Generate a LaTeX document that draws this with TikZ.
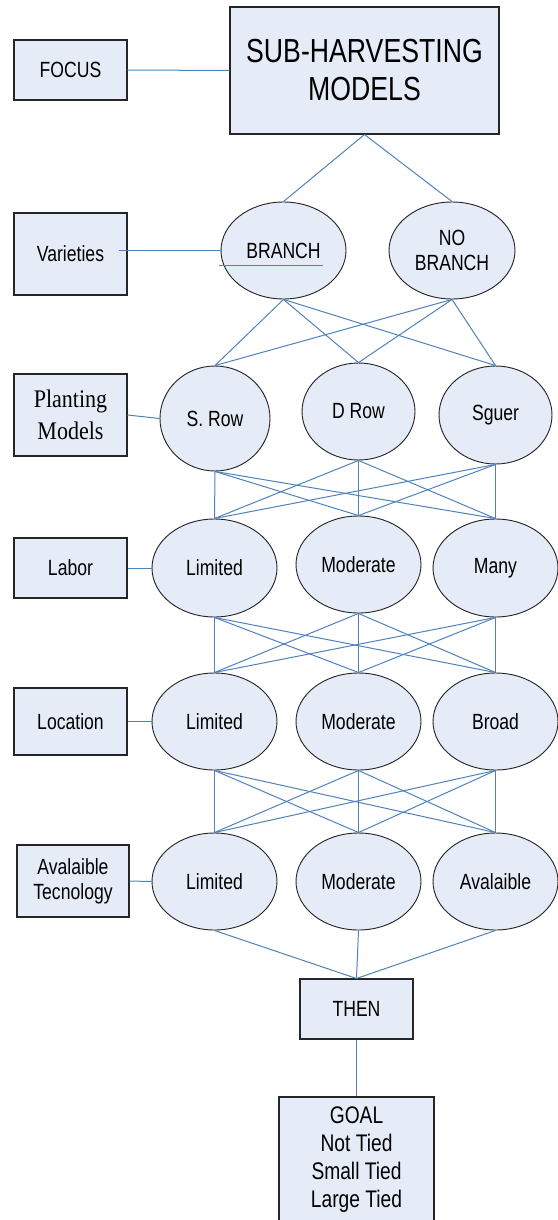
\documentclass[tikz,border=0pt]{standalone}
\usepackage{fontspec}
\setmainfont{Liberation Sans}[FakeStretch=0.8]
\newfontfamily\plantfont{Liberation Serif}[FakeStretch=0.87]
\usepackage{tikz}
\usetikzlibrary{shapes.geometric,calc}
\definecolor{boxblue}{RGB}{230,236,247}
\definecolor{linkblue}{RGB}{79,129,189}
\tikzset{
  tag/.style={rectangle, draw=black!85, fill=boxblue, line width=0.8pt,
              inner sep=0pt, minimum width=84.75pt, align=center,
              font=\fontsize{16.5}{18.5}\selectfont},
  choice/.style={ellipse, draw=black!85, fill=boxblue, line width=0.7pt,
                 inner sep=0pt, minimum width=93.75pt, minimum height=72.75pt,
                 align=center, font=\fontsize{16.5}{18.5}\selectfont},
  link/.style={draw=linkblue, line width=0.75pt}
}

\begin{document}
\begin{tikzpicture}[x=0.75pt, y=-0.75pt]
\useasboundingbox (0,0) rectangle (557,1220);

% --- Focus ---
\node[tag, minimum height=45pt] (focus) at (70.5,70) {FOCUS};
\node[tag, minimum width=201.75pt, minimum height=95.25pt,
      font=\fontsize{25}{28.5}\selectfont] (models) at (364.5,70.5)
  {SUB-HARVESTING\\MODELS};

% --- Varieties ---
\node[tag, minimum height=61.5pt] (varieties) at (70.5,254) {Varieties};
\node[choice] (branch) at (283.5,250.5) {BRANCH};
\node[choice, minimum width=94.5pt] (nobranch) at (452,250.5) {NO\\BRANCH};

% --- Planting models ---
\node[tag, minimum height=61.5pt, font=\plantfont\fontsize{19}{24}\selectfont]
  (planting) at (70.5,415) {Planting\\Models};
\node[choice, minimum width=82.5pt, minimum height=78.75pt] (srow) at (215,418.5) {S. Row};
\node[choice, minimum width=84.75pt] (drow) at (358.5,411.5) {D Row};
\node[choice, minimum width=84.75pt, minimum height=73.5pt] (sguer) at (495.5,415) {Sguer};

% --- Labor ---
\node[tag, minimum height=45pt] (labor) at (70.5,568) {Labor};
\node[choice, minimum height=73.5pt] (labLim) at (214.5,568) {Limited};
\node[choice] (labMod) at (358.5,564.5) {Moderate};
\node[choice, minimum height=73.5pt] (labMany) at (495.5,568) {Many};

% --- Location ---
\node[tag, minimum height=50.25pt] (location) at (70.5,721.5) {Location};
\node[choice] (locLim) at (214.5,721.5) {Limited};
\node[choice] (locMod) at (358.5,721.5) {Moderate};
\node[choice] (locBroad) at (495.5,721.5) {Broad};

% --- Available technology ---
\node[tag, minimum width=84pt, minimum height=54pt] (tech) at (73,881) {Avalaible\\Tecnology};
\node[choice] (techLim) at (214.5,881.5) {Limited};
\node[choice] (techMod) at (358.5,881.5) {Moderate};
\node[choice] (techAv) at (495.5,881.5) {Avalaible};

% --- Result ---
\node[tag, minimum height=45pt] (then) at (356.5,1009) {THEN};
\node[tag, minimum width=116.25pt, minimum height=94.5pt,
      font=\fontsize{18}{21}\selectfont] (goal) at (356.5,1160)
  {GOAL\\Not Tied\\Small Tied\\Large Tied};

% --- Links ---
\draw[link] (focus.east) -- (models.west);
\draw[link] (models.south) -- (branch.north);
\draw[link] (models.south) -- (nobranch.north);

\draw[link] ([xshift=-6.75pt]varieties.east |- branch.west) -- (branch.west);
\draw[link] ($(branch)+(-64.5,15)$) -- ($(branch)+(39.5,15)$);

\draw[link] (branch.south) -- (srow.north);
\draw[link] (branch.south) -- (drow.north);
\draw[link] (branch.south) -- (sguer.north);
\draw[link] (nobranch.south) -- (srow.north);
\draw[link] (nobranch.south) -- (drow.north);
\draw[link] (nobranch.south) -- (sguer.north);

\draw[link] (planting.east) -- (srow.west);

\draw[link] (srow.south) -- (labLim.north);
\draw[link] (srow.south) -- (labMod.north);
\draw[link] (srow.south) -- (labMany.north);
\draw[link] (drow.south) -- (labLim.north);
\draw[link] (drow.south) -- (labMod.north);
\draw[link] (drow.south) -- (labMany.north);
\draw[link] (sguer.south) -- (labLim.north);
\draw[link] (sguer.south) -- (labMod.north);
\draw[link] (sguer.south) -- (labMany.north);

\draw[link] (labor.east) -- (labLim.west);

\draw[link] (labLim.south) -- (locLim.north);
\draw[link] (labLim.south) -- (locMod.north);
\draw[link] (labLim.south) -- (locBroad.north);
\draw[link] (labMod.south) -- (locLim.north);
\draw[link] (labMod.south) -- (locMod.north);
\draw[link] (labMod.south) -- (locBroad.north);
\draw[link] (labMany.south) -- (locLim.north);
\draw[link] (labMany.south) -- (locMod.north);
\draw[link] (labMany.south) -- (locBroad.north);

\draw[link] (location.east) -- (locLim.west);

\draw[link] (locLim.south) -- (techLim.north);
\draw[link] (locLim.south) -- (techMod.north);
\draw[link] (locLim.south) -- (techAv.north);
\draw[link] (locMod.south) -- (techLim.north);
\draw[link] (locMod.south) -- (techMod.north);
\draw[link] (locMod.south) -- (techAv.north);
\draw[link] (locBroad.south) -- (techLim.north);
\draw[link] (locBroad.south) -- (techMod.north);
\draw[link] (locBroad.south) -- (techAv.north);

\draw[link] (tech.east) -- (techLim.west);

\draw[link] (techLim.south) -- (then.north);
\draw[link] (techMod.south) -- (then.north);
\draw[link] (techAv.south) -- (then.north);
\draw[link] (then.south) -- (goal.north);

\end{tikzpicture}
\end{document}
